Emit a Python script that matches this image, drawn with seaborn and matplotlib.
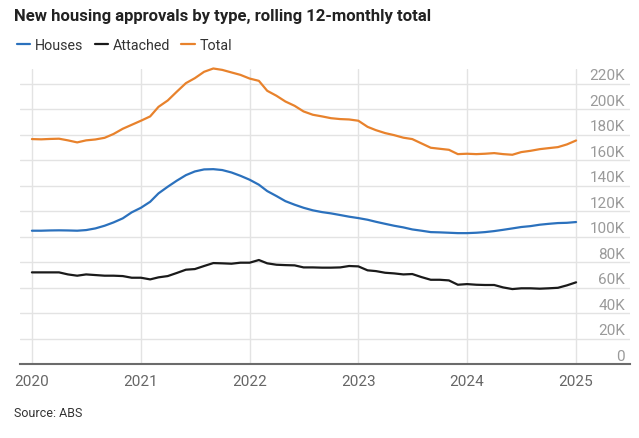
import matplotlib
matplotlib.use("Agg")
import matplotlib.pyplot as plt
import matplotlib.dates as mdates
import matplotlib.transforms as mtransforms
import numpy as np
import pandas as pd
import seaborn as sns

# monthly rolling 12-month totals, Jan 2020 .. Jan 2025 (thousands)
months = pd.date_range("2020-01-01", "2025-01-01", freq="MS")

houses = [
    104.6, 104.6, 104.8, 104.9, 104.8, 104.6, 105.1, 106.4, 108.5, 111.1, 114.3, 119.0,
    122.6, 127.3, 133.9, 139.1, 143.8, 148.2, 151.1, 152.7, 152.9, 152.2, 150.3, 147.7,
    144.6, 140.7, 135.7, 131.8, 127.8, 125.0, 122.6, 120.6, 119.2, 118.2, 116.9, 115.6,
    114.5, 113.2, 111.6, 110.0, 108.5, 107.2, 105.6, 104.6, 103.5, 103.3, 103.0, 102.7,
    102.7, 103.0, 103.5, 104.3, 105.3, 106.4, 107.5, 108.2, 109.3, 110.0, 110.6, 110.8,
    111.4,
]
attached = [
    71.9, 71.9, 71.9, 71.9, 70.3, 69.3, 70.3, 69.8, 69.3, 69.3, 69.0, 67.7,
    67.7, 66.4, 68.0, 69.0, 71.4, 74.0, 74.5, 76.9, 79.2, 79.0, 78.7, 79.5,
    79.5, 81.6, 79.0, 77.9, 77.6, 77.4, 75.8, 75.8, 75.6, 75.6, 75.8, 76.9,
    76.6, 73.5, 72.9, 71.6, 71.1, 70.3, 70.6, 68.2, 66.1, 66.1, 65.6, 62.2,
    62.7, 62.2, 62.0, 62.0, 60.1, 58.8, 59.4, 59.4, 59.1, 59.4, 59.8, 61.7,
    64.1,
]
total = [
    176.5, 176.3, 176.6, 176.8, 175.5, 173.9, 175.5, 176.2, 177.5, 180.5, 184.6, 187.7,
    190.9, 194.3, 201.8, 206.8, 213.6, 220.4, 224.3, 229.3, 231.9, 230.8, 228.8, 226.9,
    224.0, 222.2, 214.4, 210.5, 206.0, 202.6, 198.2, 195.6, 194.3, 192.9, 192.2, 191.9,
    190.9, 186.1, 183.5, 181.2, 179.6, 177.6, 176.5, 173.1, 169.7, 168.9, 168.1, 164.7,
    165.0, 164.7, 165.0, 165.5, 164.7, 164.2, 166.3, 167.3, 168.6, 169.4, 170.2, 172.3,
    175.4,
]

series_names = ["Houses", "Attached", "Total"]
colors = {"Houses": "#2b71bd", "Attached": "#1a1a1a", "Total": "#e8822c"}
y_ticks = [0, 20, 40, 60, 80, 100, 120, 140, 160, 180, 200, 220]
y_labels = ["0" if v == 0 else f"{v}K" for v in y_ticks]
x_years = [2020, 2021, 2022, 2023, 2024, 2025]

df = pd.DataFrame({"month": months, "Houses": houses, "Attached": attached, "Total": total})
long_df = df.melt(id_vars="month", var_name="type", value_name="value")

sns.set_theme(style="white")
plt.rcParams["font.family"] = ["Roboto", "DejaVu Sans"]

fig = plt.figure(figsize=(6.39, 4.39), dpi=100)
ax = fig.add_axes([20 / 639, 1 - 365 / 439, 610 / 639, 295 / 439])

sns.lineplot(data=long_df, x="month", y="value", hue="type", hue_order=series_names,
             palette=colors, linewidth=1.6, legend=False, ax=ax)
for ln in ax.get_lines():
    ln.set_clip_on(False)

ax.set_xlim(pd.Timestamp("2019-11-22"), pd.Timestamp("2025-07-01"))
ax.set_ylim(0, 231.5)
ax.set_xlabel("")
ax.set_ylabel("")

# grid
ax.set_yticks(y_ticks)
ax.set_xticks([pd.Timestamp(f"{y}-01-01") for y in x_years])
ax.xaxis.set_major_formatter(mdates.DateFormatter("%Y"))
ax.grid(True, color="#e3e3e3", linewidth=1.0)
ax.set_axisbelow(True)
for side in ["top", "right", "left"]:
    ax.spines[side].set_visible(False)
ax.spines["bottom"].set_color("#6b6b6b")
ax.spines["bottom"].set_linewidth(1.5)
ax.tick_params(axis="x", length=0, pad=7, labelsize=11, labelcolor="#666666")
ax.tick_params(axis="y", length=0, labelleft=False)

# y labels sit inside the plot, above their gridline, right aligned
trans = mtransforms.blended_transform_factory(ax.transAxes, ax.transData)
lift = mtransforms.ScaledTranslation(0, 1 / 72, fig.dpi_scale_trans)
for v, lab in zip(y_ticks, y_labels):
    ax.text(0.9915, v, lab, transform=trans + lift, ha="right", va="bottom",
            fontsize=11, color="#9a9a9a")

fig.text(14 / 639, 1 - 16 / 439, "New housing approvals by type, rolling 12-monthly total",
         fontsize=12, fontweight="bold", color="#222222", va="center", ha="left")

handles = ax.get_lines()[:3]
fig.legend(handles, series_names, loc="center left", bbox_to_anchor=(4 / 639, 1 - 46 / 439),
           ncol=3, frameon=False, fontsize=10.3, handlelength=0.95, handletextpad=0.3,
           columnspacing=0.8, labelcolor="#333333")

fig.text(14 / 639, 1 - 414 / 439, "Source: ABS", fontsize=9, color="#333333",
         va="center", ha="left")

fig.savefig("out.png", dpi=100)
